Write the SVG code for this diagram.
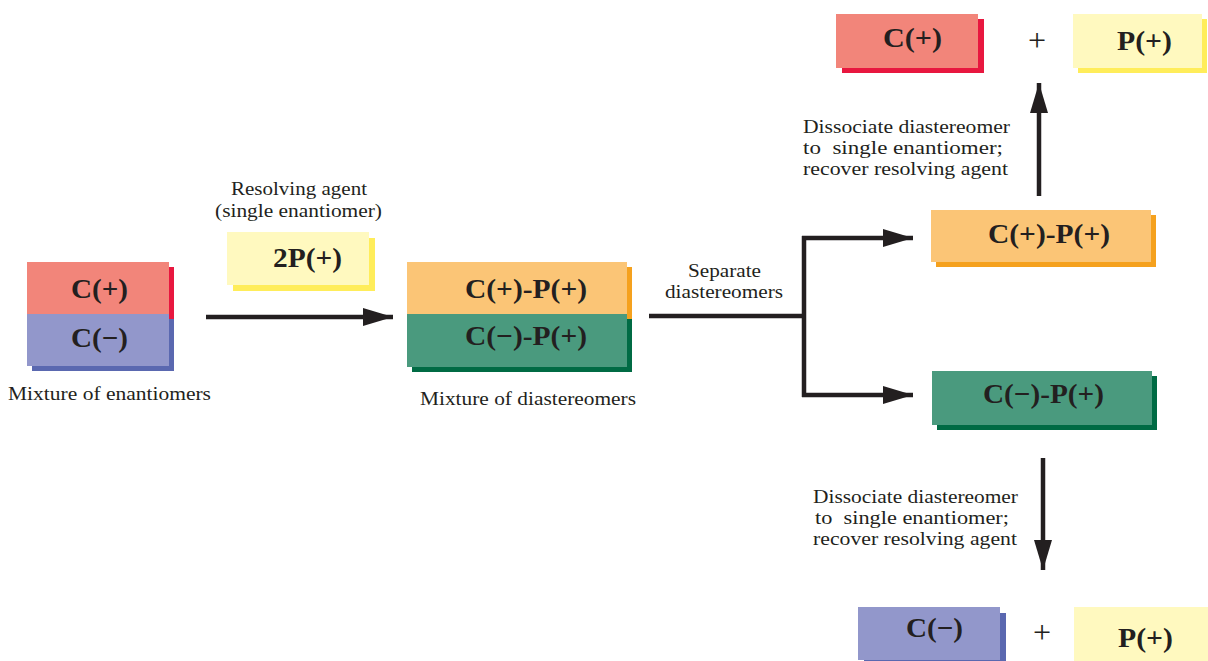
<svg xmlns="http://www.w3.org/2000/svg" width="1208" height="661" viewBox="0 0 1208 661">
  <style>
    .lbl { font-family: "Liberation Serif", "Times New Roman", serif; font-size: 19.5px; fill: #231f20; }
    .bold { font-family: "Liberation Serif", "Times New Roman", serif; font-size: 27px; font-weight: bold; fill: #231f20; }
    .plus { font-family: "Liberation Serif", "Times New Roman", serif; font-size: 32px; fill: #231f20; }
    .red { fill: #f2857a; } .redS { fill: #e8173f; }
    .blue { fill: #9297cb; } .blueS { fill: #5a68b0; }
    .yel { fill: #fff9bf; } .yelS { fill: #ffed5a; }
    .org { fill: #fbc576; } .orgS { fill: #f5a11e; }
    .grn { fill: #4a9a7e; } .grnS { fill: #006b44; }
    .line { stroke: #231f20; stroke-width: 4.5; fill: none; }
  </style>
  <defs>
    <marker id="head" viewBox="0 0 30 20" refX="30" refY="10" markerWidth="30" markerHeight="20" markerUnits="userSpaceOnUse" orient="auto">
      <path d="M0,1 L30,10 L0,19 Z" fill="#231f20"/>
    </marker>
  </defs>

  <rect width="1208" height="661" fill="#ffffff"/>

  <!-- racemic mixture -->
  <g id="mixture-enantiomers">
    <rect class="redS" x="32" y="267" width="142" height="52"/>
    <rect class="blueS" x="32" y="319" width="142" height="52"/>
    <rect class="red" x="27" y="262" width="142" height="52"/>
    <rect class="blue" x="27" y="314" width="142" height="52"/>
    <text class="bold" x="71" y="298" textLength="57" lengthAdjust="spacingAndGlyphs">C(+)</text>
    <text class="bold" x="71" y="347" textLength="57" lengthAdjust="spacingAndGlyphs">C(−)</text>
    <text class="lbl" x="8" y="400" textLength="203" lengthAdjust="spacingAndGlyphs">Mixture of enantiomers</text>
  </g>

  <!-- resolving agent -->
  <g id="resolving-agent">
    <text class="lbl" x="231" y="195" textLength="136" lengthAdjust="spacingAndGlyphs">Resolving agent</text>
    <text class="lbl" x="215" y="217" textLength="167" lengthAdjust="spacingAndGlyphs">(single enantiomer)</text>
    <rect class="yelS" x="233" y="238" width="142" height="53"/>
    <rect class="yel" x="227" y="232" width="142" height="53"/>
    <text class="bold" x="273" y="267" textLength="69" lengthAdjust="spacingAndGlyphs">2P(+)</text>
  </g>

  <!-- diastereomer mixture -->
  <g id="mixture-diastereomers">
    <rect class="orgS" x="412" y="267" width="220" height="52"/>
    <rect class="grnS" x="412" y="319" width="220" height="53"/>
    <rect class="org" x="407" y="262" width="220" height="52"/>
    <rect class="grn" x="407" y="314" width="220" height="53"/>
    <text class="bold" x="465" y="298" textLength="122" lengthAdjust="spacingAndGlyphs">C(+)-P(+)</text>
    <text class="bold" x="465" y="345" textLength="122" lengthAdjust="spacingAndGlyphs">C(−)-P(+)</text>
    <text class="lbl" x="420" y="405" textLength="216" lengthAdjust="spacingAndGlyphs">Mixture of diastereomers</text>
  </g>

  <!-- separated diastereomers -->
  <g id="diastereomer-plus">
    <rect class="orgS" x="936" y="215" width="220" height="52"/>
    <rect class="org" x="931" y="210" width="220" height="52"/>
    <text class="bold" x="988" y="243" textLength="122" lengthAdjust="spacingAndGlyphs">C(+)-P(+)</text>
  </g>
  <g id="diastereomer-minus">
    <rect class="grnS" x="937" y="376" width="220" height="54"/>
    <rect class="grn" x="932" y="371" width="220" height="54"/>
    <text class="bold" x="983" y="403" textLength="121" lengthAdjust="spacingAndGlyphs">C(−)-P(+)</text>
  </g>

  <!-- products, top -->
  <g id="product-c-plus">
    <rect class="redS" x="842" y="19" width="142" height="54"/>
    <rect class="red" x="836" y="14" width="142" height="54"/>
    <text class="bold" x="883" y="47" textLength="59" lengthAdjust="spacingAndGlyphs">C(+)</text>
  </g>
  <text class="plus" x="1037" y="51" text-anchor="middle">+</text>
  <g id="product-p-plus-top">
    <rect class="yelS" x="1078" y="19" width="129" height="54"/>
    <rect class="yel" x="1073" y="14" width="129" height="54"/>
    <text class="bold" x="1117" y="50" textLength="55" lengthAdjust="spacingAndGlyphs">P(+)</text>
  </g>

  <!-- products, bottom -->
  <g id="product-c-minus">
    <rect class="blueS" x="864" y="613" width="142" height="53"/>
    <rect class="blue" x="858" y="607" width="142" height="53"/>
    <text class="bold" x="906" y="637" textLength="57" lengthAdjust="spacingAndGlyphs">C(−)</text>
  </g>
  <text class="plus" x="1042" y="643" text-anchor="middle">+</text>
  <g id="product-p-plus-bottom">
    <rect class="yel" x="1074" y="607" width="134" height="54"/>
    <text class="bold" x="1118" y="647" textLength="55" lengthAdjust="spacingAndGlyphs">P(+)</text>
  </g>

  <!-- step labels -->
  <g id="step-labels">
    <text class="lbl" x="688" y="277" textLength="73" lengthAdjust="spacingAndGlyphs">Separate</text>
    <text class="lbl" x="665" y="298" textLength="118" lengthAdjust="spacingAndGlyphs">diastereomers</text>
    <text class="lbl" x="803" y="133" textLength="207" lengthAdjust="spacingAndGlyphs">Dissociate diastereomer</text>
    <text class="lbl" x="803" y="154" textLength="200" lengthAdjust="spacingAndGlyphs" xml:space="preserve">to  single enantiomer;</text>
    <text class="lbl" x="803" y="175" textLength="205" lengthAdjust="spacingAndGlyphs">recover resolving agent</text>
    <text class="lbl" x="813" y="503" textLength="205" lengthAdjust="spacingAndGlyphs">Dissociate diastereomer</text>
    <text class="lbl" x="815" y="524" textLength="194" lengthAdjust="spacingAndGlyphs" xml:space="preserve">to  single enantiomer;</text>
    <text class="lbl" x="813" y="545" textLength="204" lengthAdjust="spacingAndGlyphs">recover resolving agent</text>
  </g>

  <!-- connectors -->
  <g id="connectors">
    <line class="line" x1="206" y1="317" x2="393" y2="317" marker-end="url(#head)"/>
    <path class="line" d="M649,316 H804"/>
    <path class="line" d="M804,236 V397"/>
    <line class="line" x1="802" y1="238" x2="913" y2="238" marker-end="url(#head)"/>
    <line class="line" x1="802" y1="395" x2="913" y2="395" marker-end="url(#head)"/>
    <line class="line" x1="1039" y1="196" x2="1039" y2="83" marker-end="url(#head)"/>
    <line class="line" x1="1043" y1="458" x2="1043" y2="570" marker-end="url(#head)"/>
  </g>
</svg>
